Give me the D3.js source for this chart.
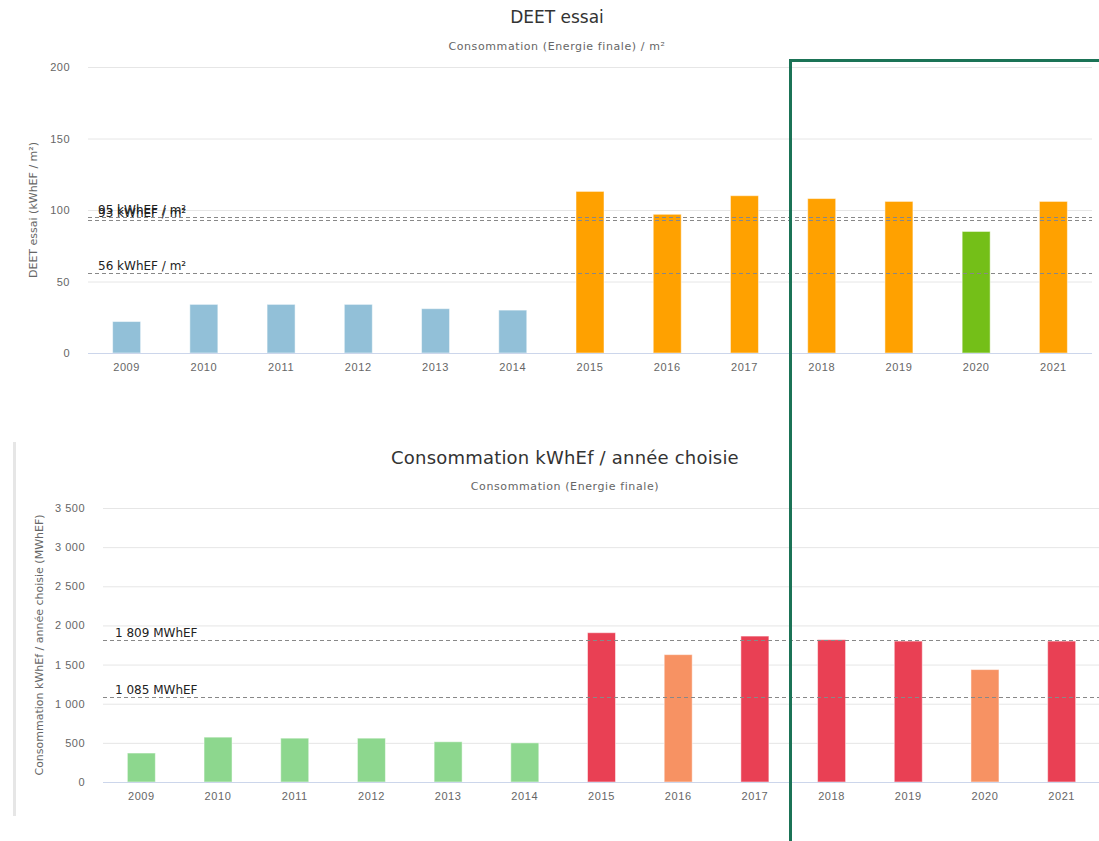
<!DOCTYPE html>
<html>
<head>
<meta charset="utf-8">
<script src="https://cdn.jsdelivr.net/npm/d3@7"></script>
<style>
  body { margin: 0; background: #fff; }
  svg { display: block; font-family: "DejaVu Sans", Verdana, sans-serif; }
  .grid line { stroke: #e6e6e6; }
  .grid .domain { display: none; }
  .ylab text { fill: #666; font-size: 11px; letter-spacing: 0.5px; }
  .xlab text { fill: #666; font-size: 11px; letter-spacing: 0.6px; }
  .xlab line { display: none; }
  .xlab .domain { stroke: #ccd6eb; }
</style>
</head>
<body>
<script>

var years = ["2009", "2010", "2011", "2012", "2013", "2014", "2015", "2016", "2017", "2018", "2019", "2020", "2021"];

// DEET essai (kWhEF / m²)
var deetValues = [22, 34, 34, 34, 31, 30, 113, 97, 110, 108, 106, 85, 106];
var deetColors = ["#92c0d8", "#92c0d8", "#92c0d8", "#92c0d8", "#92c0d8", "#92c0d8",
                  "#ffa100", "#ffa100", "#ffa100", "#ffa100", "#ffa100", "#74bf18", "#ffa100"];
var deetTicks = [0, 50, 100, 150, 200];
var deetRefs = [95, 93, 56];
var deetRefLabels = ["95 kWhEF / m²", "93 kWhEF / m²", "56 kWhEF / m²"];

// Consommation (MWhEF)
var consoValues = [370, 573, 560, 560, 514, 500, 1907, 1627, 1864, 1818, 1800, 1436, 1800];
var consoColors = ["#8dd78e", "#8dd78e", "#8dd78e", "#8dd78e", "#8dd78e", "#8dd78e",
                   "#e94054", "#f79263", "#e94054", "#e94054", "#e94054", "#f79263", "#e94054"];
var consoTicks = [0, 500, 1000, 1500, 2000, 2500, 3000, 3500];
var consoRefs = [1809, 1085];
var consoRefLabels = ["1 809 MWhEF", "1 085 MWhEF"];

var width = 1099,
	height = 841;

var svg = d3.select("body").append("svg")
	.attr("width", width)
	.attr("height", height);

var fmt = d3.formatLocale({decimal: ",", thousands: " ", grouping: [3], currency: ["", "€"]}).format(",d");

function drawChart(opt) {
	var x = d3.scaleBand()
		.domain(years)
		.range([opt.left, opt.right]);

	var y = d3.scaleLinear()
		.domain([0, opt.ticks[opt.ticks.length - 1]])
		.range([opt.bottom, opt.top]);

	// title + subtitle
	svg.append("text")
		.attr("x", opt.titleX)
		.attr("y", opt.titleY)
		.attr("text-anchor", "middle")
		.attr("fill", "#333")
		.style("font-size", opt.titleSize + "px")
		.style("letter-spacing", opt.titleSpacing + "px")
		.text(opt.title);

	svg.append("text")
		.attr("x", opt.titleX)
		.attr("y", opt.subY)
		.attr("text-anchor", "middle")
		.attr("fill", "#666")
		.style("font-size", "11px")
		.style("letter-spacing", "0.6px")
		.text(opt.subtitle);

	// grid
	svg.append("g")
		.attr("class", "grid")
		.attr("transform", "translate(" + opt.left + ",0)")
		.call(d3.axisLeft(y).tickValues(opt.ticks).tickSize(-(opt.right - opt.left)).tickFormat(""));

	// y labels
	svg.append("g")
		.attr("class", "ylab")
		.attr("transform", "translate(" + (opt.left - 15) + ",0)")
		.call(d3.axisLeft(y).tickValues(opt.ticks).tickSize(0).tickFormat(fmt))
		.call(function(g) { g.select(".domain").remove(); });

	// y title
	svg.append("text")
		.attr("transform", "translate(" + opt.yTitleX + "," + ((opt.top + opt.bottom) / 2) + ") rotate(-90)")
		.attr("text-anchor", "middle")
		.attr("fill", "#666")
		.style("font-size", "11px")
		.text(opt.yTitle);

	// bars
	var bw = 28;
	svg.append("g").selectAll("rect")
		.data(opt.values)
		.enter().append("rect")
		.attr("x", function(d, i) { return x(years[i]) + x.bandwidth() / 2 - bw / 2; })
		.attr("y", function(d) { return y(d); })
		.attr("width", bw)
		.attr("height", function(d) { return y(0) - y(d); })
		.attr("fill", function(d, i) { return opt.colors[i]; })
		.attr("stroke", "#fff")
		.attr("stroke-opacity", 0.5)
		.attr("stroke-width", 1);

	// x axis
	svg.append("g")
		.attr("class", "xlab")
		.attr("transform", "translate(0," + opt.bottom + ")")
		.call(d3.axisBottom(x).tickSize(0).tickPadding(10))
		.call(function(g) { g.select(".domain").attr("d", "M" + opt.left + ",0.5H" + opt.right); });

	// reference lines (drawn above the bars)
	svg.append("g").selectAll("line")
		.data(opt.refs)
		.enter().append("line")
		.attr("x1", opt.left)
		.attr("x2", opt.right)
		.attr("y1", function(d) { return Math.round(y(d)) + 0.5; })
		.attr("y2", function(d) { return Math.round(y(d)) + 0.5; })
		.attr("stroke", "#888")
		.attr("stroke-dasharray", "4,3");

	svg.append("g").selectAll("text")
		.data(opt.refs)
		.enter().append("text")
		.attr("x", opt.left + opt.refDx)
		.attr("y", function(d) { return y(d) - 3; })
		.attr("fill", "#222")
		.style("font-size", "12px")
		.text(function(d, i) { return opt.refLabels[i]; });
}

drawChart({
	title: "DEET essai",
	subtitle: "Consommation (Energie finale) / m²",
	yTitle: "DEET essai (kWhEF / m²)",
	titleX: 557, titleY: 23, subY: 50, titleSize: 17, titleSpacing: 0,
	yTitleX: 37,
	left: 88, right: 1092, top: 67, bottom: 353,
	values: deetValues, colors: deetColors, ticks: deetTicks,
	refs: deetRefs, refLabels: deetRefLabels, refDx: 10
});

// left border of second panel
svg.append("line")
	.attr("x1", 14.5).attr("x2", 14.5)
	.attr("y1", 442).attr("y2", 816)
	.attr("stroke", "#e6e6e6")
	.attr("stroke-width", 3);

drawChart({
	title: "Consommation kWhEf / année choisie",
	subtitle: "Consommation (Energie finale)",
	yTitle: "Consommation kWhEf / année choisie (MWhEF)",
	titleX: 565, titleY: 464, subY: 490, titleSize: 18, titleSpacing: 0.2,
	yTitleX: 43,
	left: 103, right: 1100, top: 508, bottom: 782,
	values: consoValues, colors: consoColors, ticks: consoTicks,
	refs: consoRefs, refLabels: consoRefLabels, refDx: 12
});

// highlight frame
svg.append("path")
	.attr("d", "M790.5,841V60.5H1099")
	.attr("fill", "none")
	.attr("stroke", "#1b7356")
	.attr("stroke-width", 3);

</script>
</body>
</html>
